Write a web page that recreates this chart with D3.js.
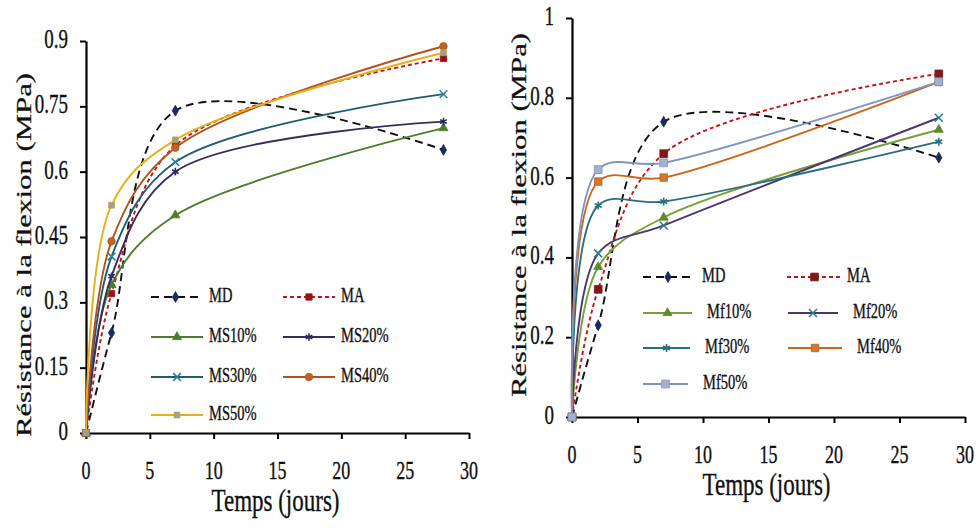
<!DOCTYPE html>
<html><head><meta charset="utf-8">
<script src="https://cdn.jsdelivr.net/npm/d3@7"></script>
<style>
html,body{margin:0;padding:0;background:#fff;}
svg text{font-family:"Liberation Serif","Times New Roman",serif;fill:#111;stroke:#111;stroke-width:0.25px;}
</style></head>
<body>
<svg id="c" width="979" height="528"></svg>
<script>
// ---------- DATA ----------
const days = [0, 2, 7, 28];
const xTicks = [0, 5, 10, 15, 20, 25, 30];
const leftYTicks = [0, 0.15, 0.3, 0.45, 0.6, 0.75, 0.9];
const leftYLabels = ["0", "0.15", "0.3", "0.45", "0.6", "0.75", "0.9"];
const rightYTicks = [0, 0.2, 0.4, 0.6, 0.8, 1];
const rightYLabels = ["0", "0.2", "0.4", "0.6", "0.8", "1"];
const xTitle = "Temps (jours)";
const yTitle = "Résistance à la flexion (MPa)";

const MD   = [0, 0.23, 0.74, 0.65];
const MA   = [0, 0.32, 0.66, 0.86];
const MS10 = [0, 0.34, 0.50, 0.70];
const MS20 = [0, 0.36, 0.60, 0.715];
const MS30 = [0, 0.405, 0.622, 0.778];
const MS40 = [0, 0.44, 0.655, 0.888];
const MS50 = [0, 0.523, 0.673, 0.873];
const Mf10 = [0, 0.376, 0.50, 0.72];
const Mf20 = [0, 0.41, 0.48, 0.75];
const Mf30 = [0, 0.53, 0.54, 0.69];
const Mf40 = [0, 0.59, 0.60, 0.84];
const Mf50 = [0, 0.62, 0.637, 0.84];

const leftNames  = ["MD", "MA", "MS10%", "MS20%", "MS30%", "MS40%", "MS50%"];
const rightNames = ["MD", "MA", "Mf10%", "Mf20%", "Mf30%", "Mf40%", "Mf50%"];

// ---------- STYLES ----------
const symTimes = d3.symbolTimes || d3.symbolX || d3.symbolCross;
const symAst = d3.symbolAsterisk || d3.symbolStar;
const leftStyle = [
  {line:"#111", dash:"8,5", sym:d3.symbolDiamond, mfill:"#1b2a5c", mstroke:"#1b2a5c", size:34},
  {line:"#c0141c", dash:"4,3", sym:d3.symbolSquare, mfill:"#9b0f17", mstroke:"#9b0f17", size:40},
  {line:"#4e7d2a", dash:null, sym:d3.symbolTriangle, mfill:"#4e7d2a", mstroke:"#4e7d2a", size:36},
  {line:"#3a2b5e", dash:null, sym:symAst, mfill:"none", mstroke:"#2a2a6a", size:40},
  {line:"#1f5c74", dash:null, sym:symTimes, mfill:"none", mstroke:"#2b7f99", size:40},
  {line:"#b4521e", dash:null, sym:d3.symbolCircle, mfill:"#c0651f", mstroke:"#b4521e", size:44},
  {line:"#e6b01a", dash:null, sym:d3.symbolSquare, mfill:"#8fa1b3", mstroke:"#c9a32a", size:34}
];
const rightStyle = [
  {line:"#111", dash:"8,5", sym:d3.symbolDiamond, mfill:"#1b2a5c", mstroke:"#1b2a5c", size:34},
  {line:"#c0141c", dash:"4,3", sym:d3.symbolSquare, mfill:"#7e1a1a", mstroke:"#7e1a1a", size:60},
  {line:"#76a03a", dash:null, sym:d3.symbolTriangle, mfill:"#5f8a2a", mstroke:"#5f8a2a", size:36},
  {line:"#4d3570", dash:null, sym:symTimes, mfill:"none", mstroke:"#2f7d92", size:44},
  {line:"#2a6e82", dash:null, sym:symAst, mfill:"none", mstroke:"#2a6e82", size:44},
  {line:"#c8681f", dash:null, sym:d3.symbolSquare, mfill:"#d0792a", mstroke:"#c0601a", size:56},
  {line:"#7f93c2", dash:null, sym:d3.symbolSquare, mfill:"#a3b2d2", mstroke:"#8092bc", size:60}
];

const svg = d3.select("#c");
const SY = 1.4; // vertical stretch of the original glyphs

function stretchedText(g, x, y, txt, size, anchor) {
  g.append("text")
    .attr("transform", `translate(${x},${y}) scale(1,${SY})`)
    .attr("text-anchor", anchor)
    .attr("font-size", size)
    .text(txt);
}

function panel(cfg) {
  const g = svg.append("g");
  const x = d3.scaleLinear().domain([0, 30]).range([cfg.x0, cfg.x1]);
  const y = d3.scaleLinear().domain([0, cfg.ymax]).range([cfg.y0, cfg.y1]);

  const ax = g.append("g").attr("transform", `translate(0,${cfg.y0})`)
    .call(d3.axisBottom(x).tickValues(xTicks).tickFormat("").tickSize(6).tickSizeOuter(0));
  const ay = g.append("g").attr("transform", `translate(${cfg.x0},0)`)
    .call(d3.axisLeft(y).tickValues(cfg.yTicks).tickFormat("").tickSize(6).tickSizeOuter(0));
  [ax, ay].forEach(a => {
    a.select(".domain").attr("stroke", "#000").attr("stroke-width", 2.2);
    a.selectAll(".tick line").attr("stroke", "#000").attr("stroke-width", 2);
  });

  xTicks.forEach(t => stretchedText(g, x(t), cfg.y0 + 46, String(t), 18, "middle"));
  cfg.yTicks.forEach((t, i) => stretchedText(g, cfg.x0 - 18, y(t) + 7, cfg.yLabels[i], 19, "end"));

  stretchedText(g, (cfg.x0 + cfg.x1) / 2 - 2, cfg.y0 + 78, xTitle, 23, "middle");
  g.append("text")
    .attr("transform", `translate(${cfg.ytx},${cfg.yty}) rotate(-90) scale(${SY},1)`)
    .attr("text-anchor", "middle").attr("dy", "0.35em")
    .attr("font-size", 22).text(yTitle);

  const line = d3.line().x((d, i) => x(days[i])).y(d => y(d)).curve(d3.curveCatmullRom.alpha(0.5));

  cfg.series.forEach((s, k) => {
    const st = cfg.styles[k];
    g.append("path").datum(s).attr("d", line)
      .attr("fill", "none").attr("stroke", st.line).attr("stroke-width", 1.9)
      .attr("stroke-dasharray", st.dash);
    g.selectAll(null).data(s).enter().append("path")
      .attr("transform", (d, i) => `translate(${x(days[i])},${y(d)})`)
      .attr("d", d3.symbol().type(st.sym).size(st.size))
      .attr("fill", st.mfill).attr("stroke", st.mstroke).attr("stroke-width", st.mfill === "none" ? 1.6 : 0.8);
  });

  cfg.names.forEach((n, k) => {
    const st = cfg.styles[k];
    const L = cfg.legend[k];
    g.append("line").attr("x1", L[0]).attr("x2", L[1]).attr("y1", L[2]).attr("y2", L[2])
      .attr("stroke", st.line).attr("stroke-width", 2).attr("stroke-dasharray", st.dash);
    g.append("path").attr("transform", `translate(${(L[0] + L[1]) / 2},${L[2]})`)
      .attr("d", d3.symbol().type(st.sym).size(st.size))
      .attr("fill", st.mfill).attr("stroke", st.mstroke).attr("stroke-width", st.mfill === "none" ? 1.6 : 0.8);
    stretchedText(g, L[3], L[2] + 5, n, 14.5, "start");
  });
}

panel({
  x0: 86, x1: 469, y0: 433, y1: 41, ymax: 0.9,
  yTicks: leftYTicks, yLabels: leftYLabels,
  ytx: 23, yty: 255,
  series: [MD, MA, MS10, MS20, MS30, MS40, MS50], styles: leftStyle, names: leftNames,
  legend: [[151, 200, 297, 209], [283, 335, 297, 341], [151, 203, 337, 209], [283, 335, 337, 341],
           [151, 203, 377, 209], [283, 335, 377, 341], [151, 203, 415, 209]]
});
panel({
  x0: 572, x1: 965, y0: 417, y1: 18, ymax: 1,
  yTicks: rightYTicks, yLabels: rightYLabels,
  ytx: 518, yty: 215,
  series: [MD, MA, Mf10, Mf20, Mf30, Mf40, Mf50], styles: rightStyle, names: rightNames,
  legend: [[643, 693, 277, 702], [787, 842, 277, 847], [643, 692, 313, 707], [788, 838, 313, 853],
           [643, 690, 348, 705], [788, 842, 348, 857], [643, 688, 384, 703]]
});
</script>
</body></html>
